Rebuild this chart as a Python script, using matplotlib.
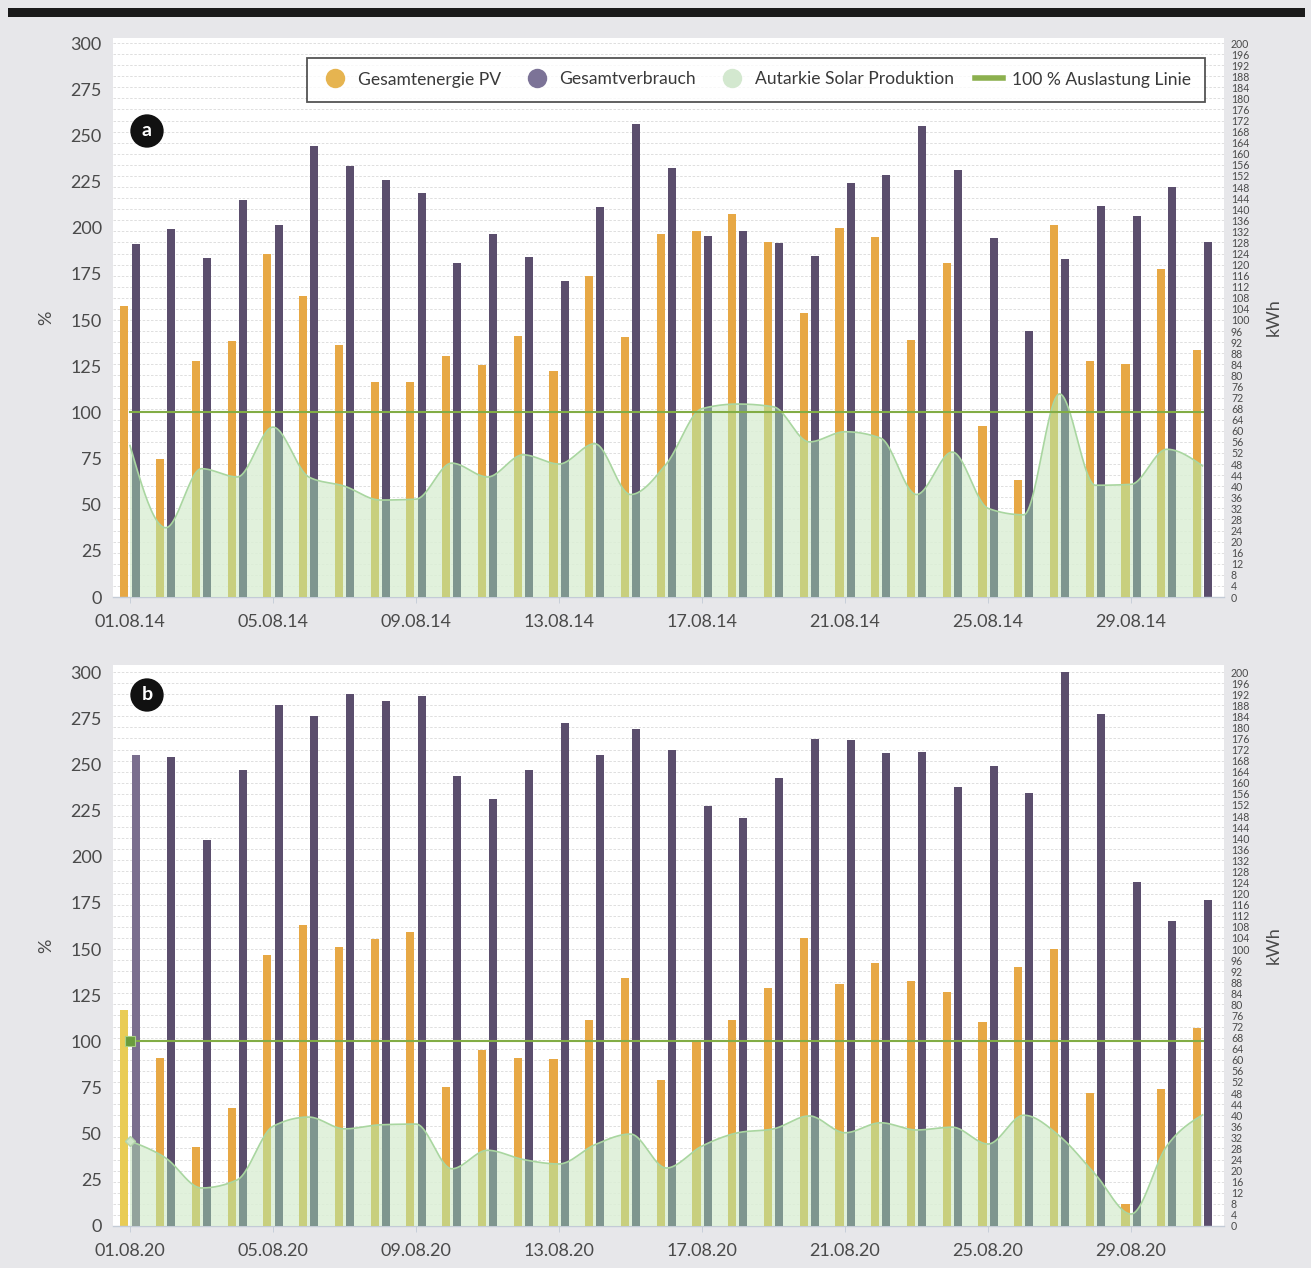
import numpy as np
import matplotlib
matplotlib.use("Agg")
import matplotlib.pyplot as plt
from matplotlib.lines import Line2D
from matplotlib.path import Path
from matplotlib.patches import Rectangle
import matplotlib.transforms as mtransforms

plt.rcParams['font.family'] = ['Lato', 'DejaVu Sans']

# ---------------- data ----------------
days = list(range(1, 32))
labels_a = ["01.08.14", "05.08.14", "09.08.14", "13.08.14", "17.08.14", "21.08.14", "25.08.14", "29.08.14"]
labels_b = ["01.08.20", "05.08.20", "09.08.20", "13.08.20", "17.08.20", "21.08.20", "25.08.20", "29.08.20"]
label_days = [1, 5, 9, 13, 17, 21, 25, 29]

# kWh
pv_a = [105.0, 49.7, 85.3, 92.5, 123.7, 108.5, 90.9, 77.7, 77.7, 86.9, 83.9, 94.3, 81.7, 116.0, 93.9,
        130.9, 132.3, 138.2, 128.3, 102.7, 133.3, 129.8, 92.7, 120.7, 61.7, 42.3, 134.2, 85.1, 84.2, 118.5, 89.3]
use_a = [127.3, 132.9, 122.3, 143.3, 134.3, 162.7, 155.7, 150.5, 146.0, 120.7, 131.0, 122.7, 114.0, 140.7, 170.7,
         155.0, 130.3, 132.0, 127.7, 123.0, 149.3, 152.5, 170.0, 154.0, 129.5, 96.0, 122.1, 141.3, 137.7, 147.9, 128.3]
# %
aut_a = [82, 37.5, 69.5, 65, 92, 65, 60, 52.5, 53, 72.5, 65, 77, 72, 83, 55.5,
         72, 102, 104.5, 103, 84, 89.5, 86, 55.5, 78.5, 48, 44.5, 110, 60.5, 61, 80, 71]

pv_b = [77.8, 60.7, 28.5, 42.6, 98.0, 108.7, 100.7, 103.5, 106.0, 50.1, 63.7, 60.7, 60.3, 74.3, 89.5,
        52.7, 66.9, 74.5, 85.8, 104.0, 87.3, 95.1, 88.5, 84.3, 73.5, 93.6, 100.0, 48.0, 7.8, 49.3, 71.3]
use_b = [170.0, 169.3, 139.2, 164.7, 188.1, 184.0, 192.0, 189.5, 191.2, 162.3, 154.0, 164.7, 181.5, 170.0, 179.5,
         172.0, 151.6, 147.3, 161.6, 175.9, 175.3, 170.9, 171.1, 158.4, 165.9, 156.4, 200.0, 184.8, 124.3, 110.0, 117.7]
aut_b = [46, 36.8, 20.6, 25, 54, 59, 52.6, 54.8, 55.2, 31, 41, 36, 33.6, 44, 49.8,
         31.4, 43.3, 50.5, 52.6, 59.6, 50.5, 55.9, 52, 53.5, 44.4, 60, 48.7, 28, 6.5, 43.3, 60.2]

LINE_PCT = 100
PCT_MAX = 300
KWH_MAX = 200

# ---------------- style ----------------
BG = '#e7e7ea'
C_PV = '#e7a845'
C_USE = '#5b4e6d'
C_PV_T = '#c8cf7e'
C_USE_T = '#7f968f'
C_AREA = '#dcefd6'
C_AREA_EDGE = '#a9d6a0'
C_LINE = '#82ad45'
TXT = '#4a4a4a'

W, H = 1311, 1268
fig = plt.figure(figsize=(W / 100, H / 100), dpi=100, facecolor=BG)
fig.patches.append(Rectangle((8 / W, 1 - 17 / H), 1297 / W, 9 / H, transform=fig.transFigure,
                             facecolor='#1a1a1a', edgecolor='none'))


def monotone(x, y, n=24):
    x = np.asarray(x, float)
    y = np.asarray(y, float)
    h = np.diff(x)
    s = np.diff(y) / h
    m = np.zeros_like(y)
    for i in range(1, len(y) - 1):
        p = (s[i - 1] * h[i] + s[i] * h[i - 1]) / (h[i - 1] + h[i])
        m[i] = (np.sign(s[i - 1]) + np.sign(s[i])) * min(abs(s[i - 1]), abs(s[i]), 0.5 * abs(p))
    m[0] = (3 * s[0] - m[1]) / 2
    m[-1] = (3 * s[-1] - m[-2]) / 2
    xs, ys = [], []
    for i in range(len(x) - 1):
        t = np.linspace(0, 1, n, endpoint=False)
        h00 = 2 * t**3 - 3 * t**2 + 1
        h10 = t**3 - 2 * t**2 + t
        h01 = -2 * t**3 + 3 * t**2
        h11 = t**3 - t**2
        xs.append(x[i] + t * h[i])
        ys.append(h00 * y[i] + h10 * h[i] * m[i] + h01 * y[i + 1] + h11 * h[i] * m[i + 1])
    xs.append([x[-1]])
    ys.append([y[-1]])
    return np.concatenate(xs), np.concatenate(ys)


def panel(rect, pv, use, aut, xlabels, ytop_px, badge, legend=False, hover=False):
    ax = fig.add_axes(rect)
    ax.set_facecolor('white')
    ymax_kwh = KWH_MAX * ytop_px
    ax.set_xlim(0.5245, 31.60)
    ax.set_ylim(0, ymax_kwh)
    for sp in ['top', 'left', 'right']:
        ax.spines[sp].set_visible(False)
    ax.spines['bottom'].set_color('#c3cbd6')
    ax.spines['bottom'].set_linewidth(1.0)

    # right kWh axis (main)
    ax.yaxis.tick_right()
    ax.set_yticks(np.arange(0, KWH_MAX + 1, 4))
    ax.tick_params(axis='y', length=0, pad=5, labelsize=7.6, labelcolor=TXT)
    ax.grid(axis='y', color='#d9d9d9', linewidth=0.6, linestyle=(0, (3, 2)))
    ax.set_axisbelow(True)
    ax.yaxis.set_label_position('right')
    ax.set_ylabel('kWh', fontsize=13, color=TXT, rotation=90, labelpad=12)

    ax.set_xticks(label_days)
    ax.set_xticklabels(xlabels)
    ax.tick_params(axis='x', length=4, width=0.6, color='#c3cbd6', pad=8, labelsize=13, labelcolor=TXT)

    # left % axis
    ratio = PCT_MAX / KWH_MAX
    sec = ax.secondary_yaxis('left', functions=(lambda k: k * ratio, lambda p: p / ratio))
    sec.set_yticks(np.arange(0, PCT_MAX + 1, 25))
    sec.tick_params(axis='y', length=0, pad=8, labelsize=13, labelcolor=TXT)
    for sp in sec.spines.values():
        sp.set_visible(False)
    sec.set_ylabel('%', fontsize=13, color=TXT, labelpad=12)

    pct_tr = mtransforms.Affine2D().scale(1, 1 / ratio) + ax.transData

    x = np.array(days, float)
    off, bw = 0.155, 0.225
    pv_colors = [C_PV] * len(days)
    use_colors = [C_USE] * len(days)
    pv_t_colors = [C_PV_T] * len(days)
    use_t_colors = [C_USE_T] * len(days)
    if hover:
        pv_colors[0] = '#e9cc55'
        use_colors[0] = '#7a6e8e'
        pv_t_colors[0] = '#cfd46a'
        use_t_colors[0] = '#93a39c'
    ax.bar(x - off, pv, width=bw, color=pv_colors, zorder=2)
    ax.bar(x + off, use, width=bw, color=use_colors, zorder=2)

    xs, ys = monotone(x, aut)
    ax.fill_between(xs, 0, ys, transform=pct_tr, facecolor=C_AREA, edgecolor='none', alpha=0.85, zorder=3)
    verts = np.column_stack([np.concatenate([[xs[0]], xs, [xs[-1], xs[0]]]),
                             np.concatenate([[0], ys, [0, 0]])])
    clip = Path(verts, closed=True)
    b1 = ax.bar(x - off, pv, width=bw, color=pv_t_colors, zorder=4)
    b2 = ax.bar(x + off, use, width=bw, color=use_t_colors, zorder=4)
    for r in list(b1) + list(b2):
        r.set_clip_path(clip, pct_tr)
    ax.plot(xs, ys, transform=pct_tr, color=C_AREA_EDGE, linewidth=1.2, zorder=5)
    ax.plot([x[0], x[-1]], [LINE_PCT, LINE_PCT], transform=pct_tr, color=C_LINE, linewidth=1.5, zorder=6)

    if hover:
        ax.plot([x[0]], [LINE_PCT], transform=pct_tr, marker='s', markersize=6.5, color='#6a9c3c',
                markeredgecolor='#a9cf86', markeredgewidth=0.8, zorder=7)
        ax.plot([x[0]], [aut[0]], transform=pct_tr, marker='D', markersize=5, color='#cfe7c8',
                markeredgecolor='#b4d6ab', zorder=7)

    ax.text(badge[1], badge[2], badge[0], transform=ax.transAxes, ha='center', va='center',
            color='white', fontsize=14, fontweight='bold',
            bbox=dict(boxstyle='circle,pad=0.42', facecolor='#111111', edgecolor='none'), zorder=10)

    if legend:
        handles = [
            Line2D([], [], marker='o', linestyle='', markersize=14, markerfacecolor='#e6b450', markeredgecolor='none'),
            Line2D([], [], marker='o', linestyle='', markersize=14, markerfacecolor='#7c7397', markeredgecolor='none'),
            Line2D([], [], marker='o', linestyle='', markersize=14, markerfacecolor='#d3e8cf', markeredgecolor='none'),
            Line2D([], [], color='#8cb04e', linewidth=4),
        ]
        names = ['Gesamtenergie PV', 'Gesamtverbrauch', 'Autarkie Solar Produktion', '100 % Auslastung Linie']
        leg = fig.legend(handles, names, loc='center', bbox_to_anchor=(756 / W, 1 - 79.5 / H), ncol=4,
                         frameon=True, fancybox=False, fontsize=12.6, handlelength=1.6, handletextpad=0.5,
                         columnspacing=1.25, borderpad=0.8, labelcolor='#3a3a3a')
        leg.get_frame().set_edgecolor('#2a2a2a')
        leg.get_frame().set_linewidth(1.3)
        leg.get_frame().set_facecolor('white')
        leg.set_zorder(20)
    return ax


# axes placement (pixels)
L, R = 113, 1224
# panel a: 0 at y=597, 300 at y=43, top of white at 38
pxu = (597 - 43) / PCT_MAX
ax_a = panel([L / W, (H - 597) / H, (R - L) / W, (597 - 38) / H], pv_a, use_a, aut_a, labels_a,
             (597 - 38) / pxu / PCT_MAX, ('a', (147 - L) / (R - L), (597 - 131) / (597 - 38)), legend=True)
pxu_b = (1226 - 672) / PCT_MAX
ax_b = panel([L / W, (H - 1226) / H, (R - L) / W, (1226 - 665) / H], pv_b, use_b, aut_b, labels_b,
             (1226 - 665) / pxu_b / PCT_MAX, ('b', (147 - L) / (R - L), (1226 - 695) / (1226 - 665)), hover=True)

fig.savefig('out.png', dpi=100, facecolor=BG)
